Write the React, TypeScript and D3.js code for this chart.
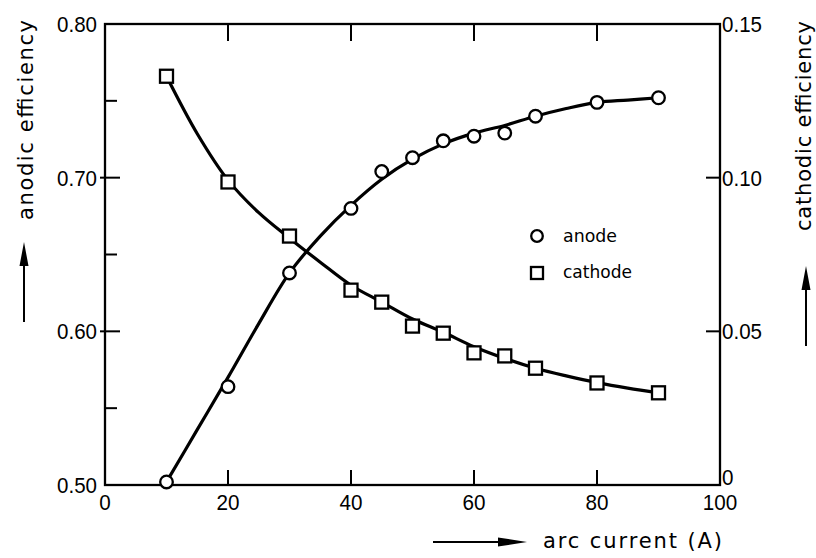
import React from "react";
import * as d3 from "d3";

// Measured points
const current = [10, 20, 30, 40, 45, 50, 55, 60, 65, 70, 80, 90];
const anodeEff = [0.502, 0.564, 0.638, 0.68, 0.704, 0.713, 0.724, 0.727, 0.729, 0.74, 0.749, 0.752];
const cathodeEff = [0.133, 0.0986, 0.081, 0.0634, 0.0595, 0.0517, 0.0494, 0.043, 0.042, 0.038, 0.0332, 0.03];

// Smooth fitted curves
const fitCurrent = [10, 15, 20, 25, 30, 35, 40, 45, 50, 55, 60, 65, 70, 75, 80, 85, 90];
const anodeFit = [0.502, 0.536, 0.57, 0.605, 0.638, 0.662, 0.682, 0.699, 0.712, 0.722, 0.729, 0.734, 0.74, 0.745, 0.749, 0.7505, 0.752];
const cathodeFit = [0.133, 0.1143, 0.0992, 0.0886, 0.0803, 0.0725, 0.065, 0.0595, 0.054, 0.0497, 0.045, 0.0412, 0.038, 0.0355, 0.0333, 0.0315, 0.03];

// Axis ticks
const xTicks = [0, 20, 40, 60, 80, 100];
const leftMajor = [0.5, 0.6, 0.7, 0.8];
const leftMinor = [0.55, 0.65, 0.75];
const rightTicks = [0, 0.05, 0.1, 0.15];
const rightTickLabels = ["0", "0.05", "0.10", "0.15"];

const W = 816;
const H = 558;
const x0 = 105, x1 = 720, yTop = 24, yBot = 485;

const x = d3.scaleLinear().domain([0, 100]).range([x0, x1]);
const yL = d3.scaleLinear().domain([0.5, 0.8]).range([yBot, yTop]);
const yR = d3.scaleLinear().domain([0, 0.15]).range([yBot, yTop]);

const tickFont = "'Liberation Sans', Arial, sans-serif";
const labelFont = "'DejaVu Sans', sans-serif";

export default function App() {
  const anodeLine = d3
    .line<number>()
    .x((_, i) => x(fitCurrent[i]))
    .y((d) => yL(d))
    .curve(d3.curveCatmullRom.alpha(0.5));
  const cathodeLine = d3
    .line<number>()
    .x((_, i) => x(fitCurrent[i]))
    .y((d) => yR(d))
    .curve(d3.curveCatmullRom.alpha(0.5));

  const sq = 13;
  const r = 6.3;

  return (
    <svg
      width={W}
      height={H}
      viewBox={`0 0 ${W} ${H}`}
      style={{ position: "absolute", left: 0, top: 0, background: "#fff" }}
    >
      <rect x={0} y={0} width={W} height={H} fill="#fff" />

      {/* frame */}
      <rect x={x0} y={yTop} width={x1 - x0} height={yBot - yTop} fill="none" stroke="#000" strokeWidth={2.3} />

      {/* x ticks, bottom and top */}
      {xTicks.filter((t) => t > 0 && t < 100).map((t) => (
        <g key={"xt" + t}>
          <line x1={x(t)} x2={x(t)} y1={yBot} y2={yBot - 15} stroke="#000" strokeWidth={2} />
          <line x1={x(t)} x2={x(t)} y1={yTop} y2={yTop + 17} stroke="#000" strokeWidth={2} />
        </g>
      ))}
      {xTicks.map((t) => (
        <text
          key={"xl" + t}
          x={x(t)}
          y={510}
          fontFamily={tickFont}
          fontSize={22}
          textAnchor="middle"
          fill="#000"
          textLength={String(t).length * 11.5}
          lengthAdjust="spacingAndGlyphs"
        >
          {t}
        </text>
      ))}

      {/* left ticks */}
      {leftMajor.filter((t) => t > 0.5 && t < 0.8).map((t) => (
        <line key={"lm" + t} x1={x0 - 5} x2={x0 + 15} y1={yL(t)} y2={yL(t)} stroke="#000" strokeWidth={2} />
      ))}
      {leftMinor.map((t) => (
        <line key={"ln" + t} x1={x0} x2={x0 + 12} y1={yL(t)} y2={yL(t)} stroke="#000" strokeWidth={2} />
      ))}
      {leftMajor.map((t) => (
        <text
          key={"ll" + t}
          x={97}
          y={yL(t) + 8}
          fontFamily={tickFont}
          fontSize={22}
          textAnchor="end"
          fill="#000"
          textLength={40}
          lengthAdjust="spacingAndGlyphs"
        >
          {d3.format(".2f")(t)}
        </text>
      ))}

      {/* right ticks */}
      {rightTicks.filter((t) => t > 0 && t < 0.15).map((t) => (
        <line key={"rt" + t} x1={x1 - 14} x2={x1} y1={yR(t)} y2={yR(t)} stroke="#000" strokeWidth={2} />
      ))}
      {rightTicks.map((t, i) => (
        <text
          key={"rl" + t}
          x={722}
          y={t === 0 ? yBot : yR(t) + 8}
          fontFamily={tickFont}
          fontSize={22}
          textAnchor="start"
          fill="#000"
          textLength={rightTickLabels[i].length === 1 ? 11.5 : 40}
          lengthAdjust="spacingAndGlyphs"
        >
          {rightTickLabels[i]}
        </text>
      ))}

      {/* fitted curves */}
      <path d={anodeLine(anodeFit) || ""} fill="none" stroke="#000" strokeWidth={3.2} />
      <path d={cathodeLine(cathodeFit) || ""} fill="none" stroke="#000" strokeWidth={3.2} />

      {/* markers */}
      {current.map((c, i) => (
        <circle key={"a" + c} cx={x(c)} cy={yL(anodeEff[i])} r={r} fill="#fff" stroke="#000" strokeWidth={2.3} />
      ))}
      {current.map((c, i) => (
        <rect
          key={"c" + c}
          x={x(c) - sq / 2}
          y={yR(cathodeEff[i]) - sq / 2}
          width={sq}
          height={sq}
          fill="#fff"
          stroke="#000"
          strokeWidth={2.3}
        />
      ))}

      {/* legend */}
      <circle cx={537} cy={236} r={5.8} fill="#fff" stroke="#000" strokeWidth={2.3} />
      <text x={563} y={242} fontFamily={labelFont} fontSize={17} textLength={54} lengthAdjust="spacingAndGlyphs" fill="#000">
        anode
      </text>
      <rect x={531} y={267} width={12} height={12} fill="#fff" stroke="#000" strokeWidth={2.3} />
      <text x={563} y={278} fontFamily={labelFont} fontSize={17} textLength={69} lengthAdjust="spacingAndGlyphs" fill="#000">
        cathode
      </text>

      {/* left axis title with arrow */}
      <text
        transform="translate(33,120) rotate(-90)"
        fontFamily={labelFont}
        fontSize={21}
        textAnchor="middle"
        textLength={200}
        lengthAdjust="spacing"
        fill="#000"
      >
        anodic efficiency
      </text>
      <line x1={24} x2={24} y1={322} y2={262} stroke="#000" strokeWidth={2} />
      <path d="M24,242 L28.5,266 L19.5,266 Z" fill="#000" />

      {/* right axis title with arrow */}
      <text
        transform="translate(811,126) rotate(-90)"
        fontFamily={labelFont}
        fontSize={21}
        textAnchor="middle"
        textLength={210}
        lengthAdjust="spacing"
        fill="#000"
      >
        cathodic efficiency
      </text>
      <line x1={806} x2={806} y1={346} y2={286} stroke="#000" strokeWidth={2} />
      <path d="M806,266 L810.5,290 L801.5,290 Z" fill="#000" />

      {/* bottom axis title with arrow */}
      <line x1={433} x2={500} y1={542} y2={542} stroke="#000" strokeWidth={2} />
      <path d="M527,542 L498,537.5 L498,546.5 Z" fill="#000" />
      <text x={543} y={548} fontFamily={labelFont} fontSize={21} textLength={179} lengthAdjust="spacing" fill="#000">
        arc current (A)
      </text>
    </svg>
  );
}
